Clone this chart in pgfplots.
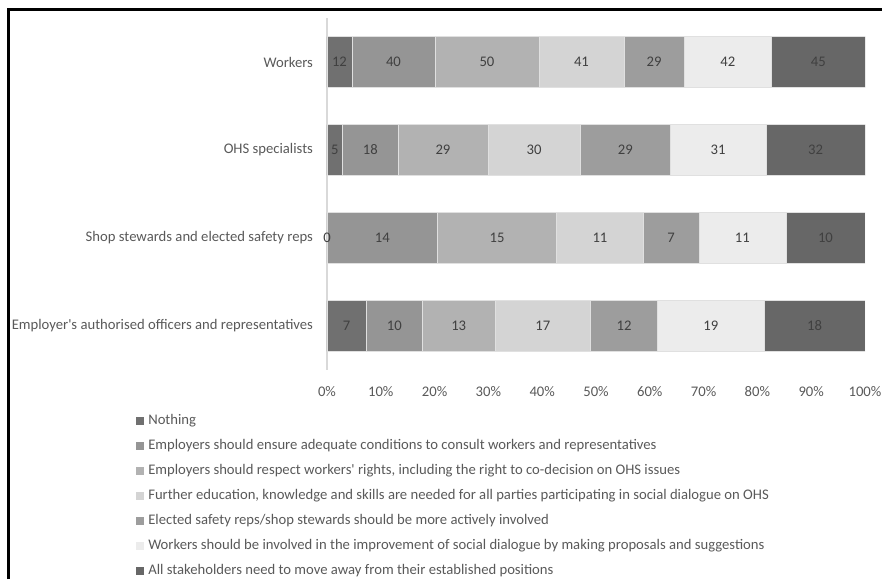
\documentclass[border=0pt]{standalone}
\usepackage{fontspec}
\setmainfont{Carlito}
\usepackage{pgfplots}
\usepackage{pgfplotstable}
\pgfplotsset{compat=1.18}

\definecolor{sA}{HTML}{707070}
\definecolor{sB}{HTML}{959595}
\definecolor{sC}{HTML}{B2B2B2}
\definecolor{sD}{HTML}{D4D4D4}
\definecolor{sE}{HTML}{9D9D9D}
\definecolor{sF}{HTML}{ECECEC}
\definecolor{sG}{HTML}{676767}
\definecolor{labgray}{HTML}{595959}
\definecolor{valgray}{HTML}{404040}

% number of answers per respondent group (rows) and proposal (columns)
\pgfplotstableread{
idx c1 c2 c3 c4 c5 c6 c7
0   12 40 50 41 29 42 45
1   5  18 29 30 29 31 32
2   0  14 15 11 7  11 10
3   7  10 13 17 12 19 18
}\counts
\pgfplotstablecreatecol[create col/expr={\thisrow{c1}+\thisrow{c2}+\thisrow{c3}+\thisrow{c4}+\thisrow{c5}+\thisrow{c6}+\thisrow{c7}}]{tot}\counts
% running sums, then the middle of every segment in percent
\pgfplotstablecreatecol[create col/expr={\thisrow{c1}}]{s1}\counts
\pgfplotstablecreatecol[create col/expr={\thisrow{s1}+\thisrow{c2}}]{s2}\counts
\pgfplotstablecreatecol[create col/expr={\thisrow{s2}+\thisrow{c3}}]{s3}\counts
\pgfplotstablecreatecol[create col/expr={\thisrow{s3}+\thisrow{c4}}]{s4}\counts
\pgfplotstablecreatecol[create col/expr={\thisrow{s4}+\thisrow{c5}}]{s5}\counts
\pgfplotstablecreatecol[create col/expr={\thisrow{s5}+\thisrow{c6}}]{s6}\counts
\pgfplotstablecreatecol[create col/expr={\thisrow{c1}/2/\thisrow{tot}*100}]{m1}\counts
\pgfplotstablecreatecol[create col/expr={(\thisrow{s1}+\thisrow{c2}/2)/\thisrow{tot}*100}]{m2}\counts
\pgfplotstablecreatecol[create col/expr={(\thisrow{s2}+\thisrow{c3}/2)/\thisrow{tot}*100}]{m3}\counts
\pgfplotstablecreatecol[create col/expr={(\thisrow{s3}+\thisrow{c4}/2)/\thisrow{tot}*100}]{m4}\counts
\pgfplotstablecreatecol[create col/expr={(\thisrow{s4}+\thisrow{c5}/2)/\thisrow{tot}*100}]{m5}\counts
\pgfplotstablecreatecol[create col/expr={(\thisrow{s5}+\thisrow{c6}/2)/\thisrow{tot}*100}]{m6}\counts
\pgfplotstablecreatecol[create col/expr={(\thisrow{s6}+\thisrow{c7}/2)/\thisrow{tot}*100}]{m7}\counts

% one stacked segment: share of the row total
\newcommand{\seg}[2]{%
  \addplot[fill=#2, draw=white!88!black, line width=0.4pt]
    table[x expr={\thisrow{#1}/\thisrow{tot}*100}, y=idx]{\counts};}
% the count written in the middle of its segment
\newcommand{\lab}[2]{%
  \addplot[draw=none, mark=none, point meta=explicit, nodes near coords]
    table[x=#2, y=idx, meta=#1]{\counts};}

\newcommand{\fs}{\fontsize{11}{13}\selectfont}

\pgfplotsset{box/.style={
  at={(245.25pt,156.75pt)}, anchor=south west,
  width=403.5pt, height=264pt, scale only axis,
  xmin=0, xmax=100, ymin=-0.5, ymax=3.5, y dir=reverse,
  /pgf/number format/assume math mode=true}}

\begin{document}
\begin{tikzpicture}
\useasboundingbox (0pt,0pt) rectangle (661.5pt,434.25pt);
\draw[line width=2pt, black] (6.4pt,0pt) -- (6.4pt,427.1pt) -- (661.5pt,427.1pt);
\begin{axis}[
  box,
  xbar stacked, bar width=38pt,
  xtick={0,10,...,100},
  xticklabel={\pgfmathprintnumber{\tick}\%},
  ytick={0,1,2,3},
  yticklabels={Workers, OHS specialists, Shop stewards and elected safety reps,
    Employer\textquotesingle s authorised officers and representatives},
  axis lines*=left,
  x axis line style={draw=none},
  y axis line style={draw=black!15, line width=0.8pt},
  major tick length=0pt,
  tick label style={font=\fs, text=labgray},
  xticklabel style={yshift=-9pt},
  yticklabel style={xshift=-7pt},
  legend cell align=left,
  legend columns=1,
  legend image code/.code={\fill[#1, draw=none] (0pt,-3pt) rectangle (6pt,3pt);},
  legend style={at={(axis description cs:-0.355,-0.125)}, anchor=north west,
    draw=none, fill=none, inner sep=0pt, row sep=8.75pt, column sep=3pt,
    font=\fs, text=labgray,
    nodes={inner sep=0pt, text height=7.8pt, text depth=2.2pt}},
]
\seg{c1}{sA}
\seg{c2}{sB}
\seg{c3}{sC}
\seg{c4}{sD}
\seg{c5}{sE}
\seg{c6}{sF}
\seg{c7}{sG}
\legend{Nothing,
  Employers should ensure adequate conditions to consult workers and representatives,
  Employers should respect workers\textquotesingle\ rights{,} including the right to co-decision on OHS issues,
  Further education{,} knowledge and skills are needed for all parties participating in social dialogue on OHS,
  Elected safety reps/shop stewards should be more actively involved,
  Workers should be involved in the improvement of social dialogue by making proposals and suggestions,
  All stakeholders need to move away from their established positions}
\end{axis}
\begin{axis}[
  box, hide axis, clip=false,
  nodes near coords style={font=\fs, text=valgray, anchor=center, inner sep=0pt},
]
\lab{c1}{m1}
\lab{c2}{m2}
\lab{c3}{m3}
\lab{c4}{m4}
\lab{c5}{m5}
\lab{c6}{m6}
\lab{c7}{m7}
\end{axis}
\end{tikzpicture}
\end{document}
